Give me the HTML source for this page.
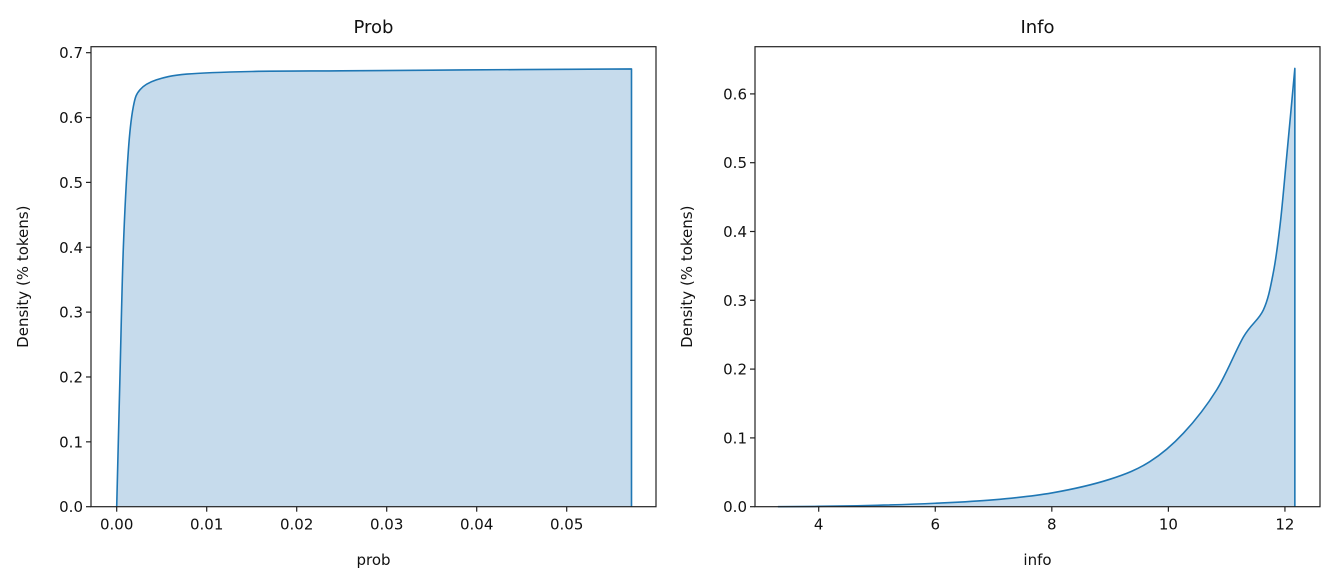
<!DOCTYPE html>
<html><head><meta charset="utf-8"><style>
body{margin:0;background:#fff;}
svg{display:block;font-family:"DejaVu Sans","Liberation Sans",sans-serif;}
</style></head><body>
<svg id="c" width="1334" height="585"></svg>
<script>
const probX=[0,0.00037,0.00074,0.0013,0.00185,0.0026,0.0044,0.0078,0.015,0.025,0.035,0.045,0.0572];
const probY=[0,0.205,0.40,0.55,0.617,0.643,0.658,0.667,0.671,0.672,0.673,0.674,0.675];
const infoX=[3.3,4,5,6,7,8,9,9.68,10.26,10.83,11.29,11.63,11.80,11.92,12.03,12.17];
const infoY=[0,0.0005,0.002,0.005,0.01,0.02,0.04,0.0654,0.107,0.170,0.247,0.286,0.34,0.412,0.509,0.637];
const probXTicks=[0,0.01,0.02,0.03,0.04,0.05];
const probXLabels=["0.00","0.01","0.02","0.03","0.04","0.05"];
const probYTicks=[0,0.1,0.2,0.3,0.4,0.5,0.6,0.7];
const infoXTicks=[4,6,8,10,12];
const infoYTicks=[0,0.1,0.2,0.3,0.4,0.5,0.6];
const NS="http://www.w3.org/2000/svg";
const svg=document.getElementById('c');
function el(t,a,p){const e=document.createElementNS(NS,t);for(const k in a)e.setAttribute(k,a[k]);(p||svg).appendChild(e);return e;}
function smooth(pts){
  let d='M'+pts[0][0]+','+pts[0][1];
  for(let i=0;i<pts.length-1;i++){
    const p0=pts[Math.max(0,i-1)],p1=pts[i],p2=pts[i+1],p3=pts[Math.min(pts.length-1,i+2)];
    const c1=[p1[0]+(p2[0]-p0[0])/6,p1[1]+(p2[1]-p0[1])/6];
    const c2=[p2[0]-(p3[0]-p1[0])/6,p2[1]-(p3[1]-p1[1])/6];
    d+=' C'+c1[0]+','+c1[1]+' '+c2[0]+','+c2[1]+' '+p2[0]+','+p2[1];
  }
  return d;
}
function panel(o){
  const g=el('g',{});
  
  
  const sx=v=>o.x0+(v-o.xmin)*o.xs, sy=v=>o.y0-v*o.ys;
  const pts=o.xs_.map((v,i)=>[sx(v),sy(o.ys_[i])]);
  const d=smooth(pts);
  const last=o.xs_[o.xs_.length-1];
  const fill=el('path',{d:d+' L'+sx(last)+','+sy(0)+' L'+sx(o.xs_[0])+','+sy(0)+' Z',fill:'#c6dbec',stroke:'none'},g);
  
  
  const line=el('path',{d:d+' L'+sx(last)+','+sy(0),fill:'none',stroke:'#1f77b4','stroke-width':1.6,'stroke-linejoin':'round'},g);
  
  
  const ax=el('rect',{x:o.L,y:o.T,width:o.R-o.L,height:o.B-o.T,fill:'none',stroke:'#222','stroke-width':1.2},g);
  
  
  o.xt.forEach((v,i)=>{const x=sx(v);
    el('line',{x1:x,x2:x,y1:o.B,y2:o.B+5,stroke:'#222','stroke-width':1.2},g);
    const t=el('text',{x:x,y:o.B+23,'text-anchor':'middle','font-size':15,fill:'#111'},g);
    t.textContent=o.xl?o.xl[i]:String(v);
    
    });
  o.yt.forEach(v=>{const y=sy(v);
    el('line',{x1:o.L-5,x2:o.L,y1:y,y2:y,stroke:'#222','stroke-width':1.2},g);
    const t=el('text',{x:o.L-8,y:y+5.5,'text-anchor':'end','font-size':15,fill:'#111'},g);
    t.textContent=v.toFixed(1);
    
    });
  const cx=(o.L+o.R)/2;
  const ti=el('text',{x:cx,y:33,'text-anchor':'middle','font-size':18,fill:'#111'},g);
  ti.textContent=o.title;
  const xl=el('text',{x:cx,y:565,'text-anchor':'middle','font-size':15,fill:'#111'},g);
  xl.textContent=o.xlabel;
  const yl=el('text',{x:0,y:0,'text-anchor':'middle','font-size':15,fill:'#111',transform:'translate('+o.ylx+','+((o.T+o.B)/2)+') rotate(-90)'},g);
  yl.textContent='Density (% tokens)';
}
panel({name:'prob-panel',L:91,R:656,T:46.7,B:506.7,x0:116.7,xmin:0,xs:9000,y0:506.7,ys:648.6,
  xs_:probX,ys_:probY,xt:probXTicks,xl:probXLabels,yt:probYTicks,title:'Prob',xlabel:'prob',ylx:28});
panel({name:'info-panel',L:755,R:1320,T:46.7,B:506.7,x0:818.7,xmin:4,xs:58.28,y0:506.7,ys:688,
  xs_:infoX,ys_:infoY,xt:infoXTicks,yt:infoYTicks,title:'Info',xlabel:'info',ylx:692});
</script>
</body></html>
